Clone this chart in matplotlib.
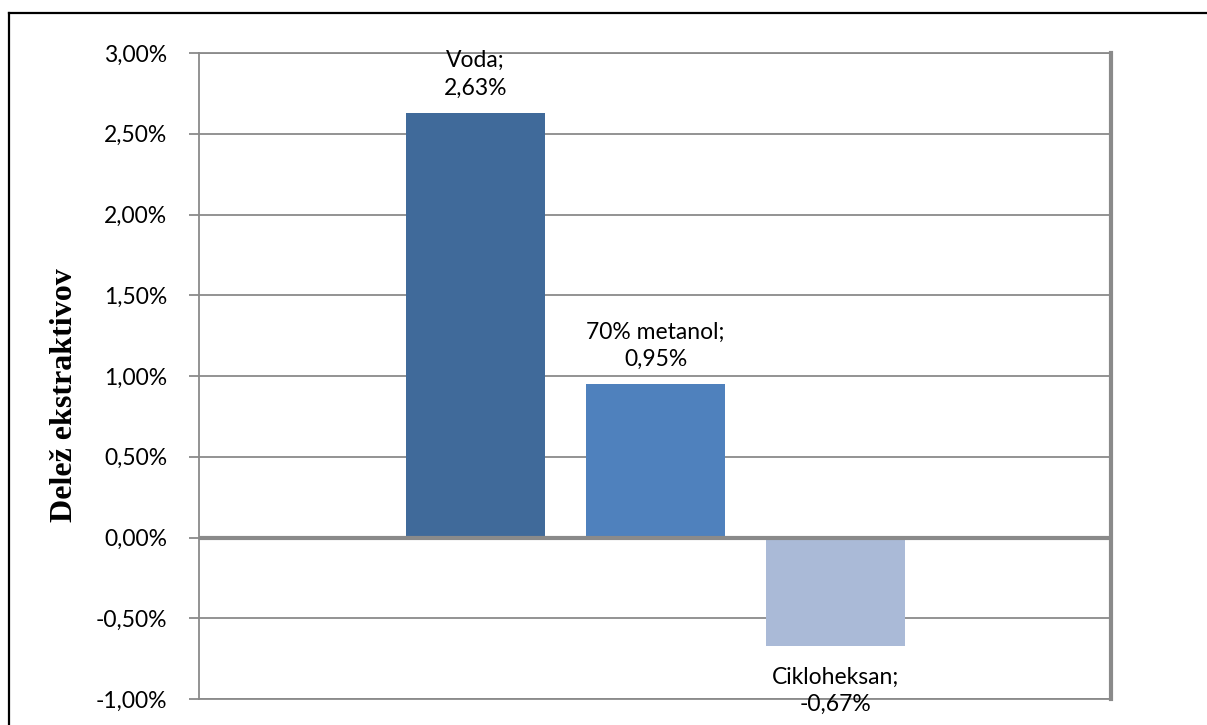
import matplotlib
matplotlib.use("Agg")
import matplotlib.pyplot as plt
from matplotlib.lines import Line2D

# delež ekstraktivov po topilu (v %)
topila = ["Voda", "70% metanol", "Cikloheksan"]
delez = [2.63, 0.95, -0.67]
barve = ["#406A9A", "#4F81BD", "#AABAD7"]
y_ticks = [-1.0, -0.5, 0.0, 0.5, 1.0, 1.5, 2.0, 2.5, 3.0]

W, H = 1207, 725
fig = plt.figure(figsize=(W / 100, H / 100), dpi=100)
fig.patch.set_facecolor("white")

# outer frame (cut at right and bottom)
fig.add_artist(Line2D([9 / W, 9 / W], [0, 1 - 13 / H], color="black", lw=1.6,
                      transform=fig.transFigure))
fig.add_artist(Line2D([9 / W, 1], [1 - 13 / H, 1 - 13 / H], color="black", lw=1.6,
                      transform=fig.transFigure))

ax = fig.add_axes([199 / W, (H - 699) / H, 912 / W, 646 / H])
grey = "#8A8A8A"
font = "Lato"
fs = 16.5

x = list(range(len(topila)))
ax.bar(x, delez, width=0.77, color=barve, zorder=3)
ax.set_xlim(-1.536, 3.53)
ax.set_ylim(-1.0, 3.0)

ax.set_yticks(y_ticks)
ax.set_yticklabels([f"{v:.2f}%".replace(".", ",") for v in y_ticks],
                   fontfamily=font, fontsize=fs)
ax.set_xticks([])
ax.tick_params(axis="y", length=7, width=1.3, color=grey, pad=16)

for v in y_ticks:
    if v == 0:
        continue
    ax.axhline(v, color=grey, lw=1.3, zorder=1)
ax.axhline(0, color=grey, lw=3.0, zorder=4)

for side in ["left", "top", "bottom"]:
    ax.spines[side].set_color(grey)
    ax.spines[side].set_linewidth(1.3)
ax.spines["right"].set_color(grey)
ax.spines["right"].set_linewidth(3.0)

ax.set_ylabel("Delež ekstraktivov", fontfamily="Liberation Serif", fontweight="bold",
              fontsize=23)
ax.yaxis.set_label_coords(-120 / 912, 0.47)

for xi, ime, v in zip(x, topila, delez):
    besedilo = f"{ime};\n{v:.2f}%".replace(".", ",")
    if v >= 0:
        ax.annotate(besedilo, (xi, v), xytext=(0, 10), textcoords="offset points",
                    ha="center", va="bottom", fontfamily=font, fontsize=fs,
                    linespacing=1.4, zorder=5)
    else:
        ax.annotate(besedilo, (xi, v), xytext=(0, -15), textcoords="offset points",
                    ha="center", va="top", fontfamily=font, fontsize=fs,
                    linespacing=1.4, zorder=5)

fig.savefig("out.png", dpi=100)
